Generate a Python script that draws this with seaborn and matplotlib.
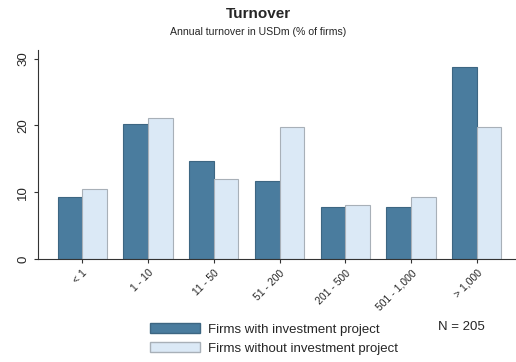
import matplotlib
matplotlib.use("Agg")
import matplotlib.pyplot as plt
import seaborn as sns
import pandas as pd
from matplotlib.patches import Patch

categories = ["< 1", "1 - 10", "11 - 50", "51 - 200", "201 - 500", "501 - 1,000", "> 1,000"]
with_project = [9.3, 20.2, 14.7, 11.6, 7.8, 7.8, 28.7]
without_project = [10.5, 21.1, 11.9, 19.8, 8.0, 9.2, 19.8]
series = ["Firms with investment project", "Firms without investment project"]

df = pd.DataFrame({
    "size": categories * 2,
    "share": with_project + without_project,
    "group": [series[0]] * len(categories) + [series[1]] * len(categories),
})

sns.set_style("white")
plt.rcParams["font.family"] = ["Liberation Sans", "DejaVu Sans"]

fig = plt.figure(figsize=(5.16, 3.62), dpi=100)
ax = fig.add_axes([0.074, 0.285, 0.924, 0.577])

palette = {series[0]: "#4a7c9e", series[1]: "#dbe9f6"}
sns.barplot(data=df, x="size", y="share", hue="group", palette=palette,
            width=0.75, gap=0, saturation=1, ax=ax, legend=False)

# edges: darker for dark bars, grey for light bars
n = len(categories)
for i, bar in enumerate(ax.patches[:2 * n]):
    if i < n:
        bar.set_edgecolor("#3d6682")
    else:
        bar.set_edgecolor("#a8b0b8")
    bar.set_linewidth(0.8)

ax.set_xlim(-0.67, 6.58)
ax.set_ylim(0, 31.3)
ax.set_yticks([0, 10, 20, 30])
ax.set_xlabel("")
ax.set_ylabel("")
ax.tick_params(axis="y", labelsize=9.5, length=3, direction="out", left=True, color="#333333")
ax.tick_params(axis="x", labelsize=7.5, length=3, direction="out", bottom=True, color="#333333")
for lbl in ax.get_yticklabels():
    lbl.set_rotation(90)
    lbl.set_va("center")
for lbl in ax.get_xticklabels():
    lbl.set_rotation(45)
    lbl.set_ha("right")
    lbl.set_rotation_mode("anchor")
sns.despine(ax=ax, top=True, right=True)
for side in ["left", "bottom"]:
    ax.spines[side].set_color("#333333")
    ax.spines[side].set_linewidth(0.8)

fig.text(0.5, 0.962, "Turnover", ha="center", va="center", fontsize=11, fontweight="bold")
fig.text(0.5, 0.912, "Annual turnover in USDm (% of firms)", ha="center", va="center", fontsize=7.6)

handles = [Patch(facecolor=palette[series[0]], edgecolor="#3d6682"),
           Patch(facecolor=palette[series[1]], edgecolor="#a8b0b8")]
fig.legend(handles, series, loc="upper left", bbox_to_anchor=(0.29, 0.108),
           frameon=False, fontsize=9.5, handlelength=3.8, handleheight=0.85,
           handletextpad=0.6, labelspacing=0.45, borderaxespad=0, borderpad=0)
fig.text(0.848, 0.097, "N = 205", ha="left", va="center", fontsize=9.5)

fig.savefig("out.png", dpi=100)
